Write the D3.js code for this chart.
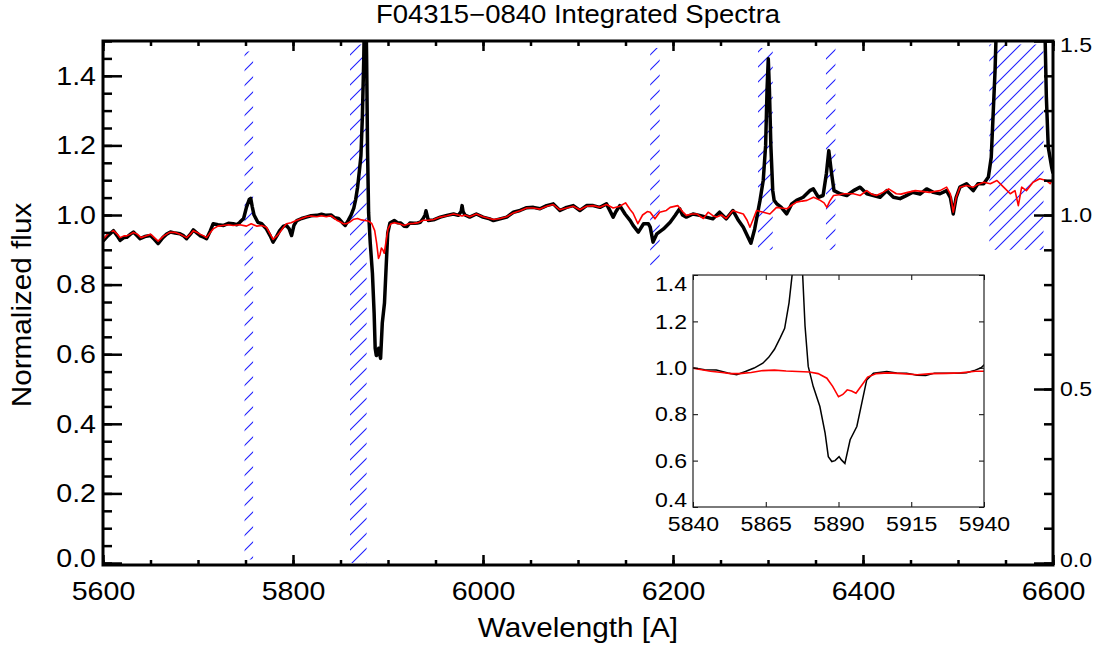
<!DOCTYPE html>
<html>
<head>
<meta charset="utf-8">
<script src="https://cdn.jsdelivr.net/npm/d3@7"></script>
<style>
body { margin: 0; background: #fff; }
text { font-family: "Liberation Sans", Arial, Helvetica, sans-serif; fill: #000; }
</style>
</head>
<body>
<div id="main"></div>
<script>
// observed spectrum (black), wavelength in A and normalized flux
var obsWave = [5600,5605,5611,5615,5618,5622,5625,5629,5632,5636,5639,5644,5650,5654,5658,5663,5667,5671,5676,5681,5685,5688,5692,5695,5699,5702,5706,5709,5713,5716,5721,5727,5732,5737,5741,5744,5748,5751,5754,5755.5,5757,5759,5763,5767,5772,5776,5779,5783,5786,5790,5793,5796,5798.5,5801,5804,5809,5814,5819,5825,5830,5835,5840,5844,5848,5852,5855,5858,5861,5864,5866,5868,5870,5871.5,5873,5874.5,5875.5,5876.5,5877.5,5878.5,5879.6,5881.3,5883.6,5885.4,5886.5,5887.7,5888.8,5890.2,5891,5892.2,5894,5896.3,5898,5899.7,5902,5906.6,5910,5913.4,5917,5920,5923,5927,5931,5934,5937,5939,5940,5942.5,5948,5955,5962,5969,5974,5977,5978,5979,5981,5986,5993,6000,6007,6011,6018,6025,6032,6039,6046,6053,6060,6067,6074,6081,6088,6095,6102,6109,6116,6123,6130,6137,6140,6144,6149.5,6155,6158,6163.5,6169,6174,6176,6179,6183,6190,6197,6202,6207,6210,6214,6221,6228,6235,6242,6249,6256,6263,6269,6274,6279,6282,6286,6291.6,6295,6297.5,6299,6300.3,6301.5,6303,6305,6306.5,6309,6314,6319.6,6325,6330,6337,6344,6347.7,6353,6358,6361.5,6364,6366.5,6369.5,6376,6383,6390,6397,6404,6411,6418,6425,6432,6439,6445,6452,6460,6467,6474,6481,6488,6492,6495,6498,6502,6509,6516,6521,6527,6532,6535,6537,6539,6541,6545,6550,6560,6570,6580,6587,6591,6593,6595,6598.6,6600];
var obsFlux = [0.925,0.94,0.955,0.94,0.927,0.935,0.936,0.945,0.951,0.94,0.932,0.938,0.941,0.93,0.918,0.935,0.945,0.951,0.948,0.946,0.94,0.932,0.945,0.957,0.948,0.941,0.936,0.932,0.955,0.975,0.972,0.97,0.976,0.975,0.972,0.979,0.99,1.022,1.045,1.048,1.025,1.0,0.979,0.975,0.96,0.94,0.922,0.94,0.955,0.968,0.97,0.96,0.941,0.97,0.984,0.99,0.994,0.998,0.999,1.002,0.999,1.0,0.992,0.99,0.978,0.97,0.984,0.999,1.02,1.045,1.08,1.13,1.17,1.28,1.45,1.65,1.65,1.45,1.18,1.006,0.92,0.833,0.718,0.617,0.596,0.6,0.617,0.603,0.588,0.69,0.747,0.848,0.948,0.977,0.984,0.978,0.977,0.968,0.967,0.977,0.976,0.977,0.979,0.99,1.0,1.012,0.984,0.986,0.994,0.999,1.003,0.999,1.01,1.027,1.01,1.0,0.994,1.003,0.994,0.989,0.984,0.989,0.994,1.008,1.013,1.021,1.022,1.018,1.027,1.032,1.013,1.022,1.027,1.013,1.027,1.027,1.022,1.032,0.994,1.01,1.027,1.003,0.984,0.97,0.951,0.975,0.975,0.965,0.922,0.946,0.96,0.979,0.998,1.018,1.0,0.994,1.003,0.999,0.994,0.989,1.008,0.989,1.013,0.984,0.965,0.936,0.919,0.96,1.042,1.1,1.2,1.36,1.449,1.36,1.2,1.07,1.042,1.033,1.022,1.003,1.032,1.042,1.051,1.07,1.075,1.051,1.056,1.12,1.185,1.128,1.07,1.061,1.056,1.07,1.08,1.061,1.056,1.051,1.07,1.051,1.047,1.055,1.065,1.06,1.075,1.065,1.061,1.07,1.05,1.003,1.05,1.08,1.09,1.07,1.09,1.09,1.109,1.166,1.29,1.415,1.6,2.2,2.6,2.8,2.8,2.6,2.2,1.6,1.34,1.195,1.137,1.12];

// stellar population model (red)
var modelWave = [5600,5605,5611,5615,5618,5622,5625,5629,5632,5636,5640,5645,5650,5654,5658,5664,5670,5676,5681,5688,5692,5695,5699,5702,5706,5709,5713,5716,5721,5726,5732,5737,5744,5751,5756,5762,5767,5772,5776,5779,5783,5786,5790,5793,5798,5804,5809,5814,5819,5825,5830,5835,5840,5846,5850,5853,5856,5860,5864,5868,5872,5876,5880,5883,5886,5888,5890,5891.5,5893,5894.5,5896,5898,5900,5903,5907,5912,5917,5922,5927,5932,5937,5942,5948,5955,5962,5969,5974,5978,5981,5986,5993,6000,6007,6011,6018,6025,6032,6039,6046,6053,6060,6067,6074,6081,6088,6095,6102,6109,6116,6123,6130,6137,6144,6150,6155,6158,6163,6168,6173,6176,6181,6186,6193,6197,6205,6210,6214,6220,6225,6232,6237,6242,6246,6251,6256,6263,6268,6274,6278,6281,6284,6288,6295,6302,6309,6314,6320,6325,6330,6336,6341,6348,6355,6359,6362,6365,6369,6375,6380,6390,6397,6404,6409,6414,6421,6427,6435,6440,6447,6455,6462,6470,6476,6481,6488,6492,6495,6498,6502,6509,6516,6521,6527,6534,6541,6548,6555,6560,6563.5,6567,6572,6579,6586,6593,6597,6600];
var modelFlux = [0.93,0.945,0.955,0.945,0.935,0.94,0.94,0.945,0.95,0.945,0.935,0.94,0.945,0.935,0.925,0.94,0.95,0.95,0.945,0.935,0.945,0.955,0.95,0.945,0.94,0.935,0.95,0.96,0.968,0.97,0.972,0.97,0.972,0.968,0.975,0.968,0.97,0.965,0.945,0.93,0.94,0.95,0.965,0.975,0.978,0.985,0.99,0.995,0.997,0.995,0.998,0.995,0.998,0.985,0.98,0.975,0.975,0.98,0.988,0.99,0.986,0.984,0.982,0.975,0.955,0.92,0.875,0.885,0.905,0.9,0.89,0.925,0.96,0.975,0.978,0.975,0.97,0.975,0.976,0.978,0.985,0.985,0.987,0.994,0.998,1.003,1.0,0.997,1.0,0.995,1.003,0.995,0.99,0.987,0.99,0.995,1.006,1.012,1.02,1.02,1.017,1.025,1.03,1.015,1.02,1.025,1.015,1.025,1.027,1.022,1.03,1.02,1.025,1.035,1.015,1.005,0.975,1.0,1.01,1.008,0.989,1.008,1.013,1.022,1.027,1.01,0.999,1.003,1.003,0.99,1.008,0.998,0.994,1.0,0.99,1.013,1.008,1.003,0.985,0.965,0.985,1.013,1.008,1.003,1.022,1.02,1.018,1.028,1.037,1.04,1.042,1.051,1.042,1.035,1.022,1.04,1.056,1.058,1.061,1.061,1.056,1.07,1.06,1.056,1.065,1.075,1.061,1.06,1.065,1.07,1.068,1.065,1.068,1.07,1.08,1.06,1.008,1.05,1.08,1.085,1.08,1.088,1.094,1.09,1.099,1.08,1.061,1.07,1.027,1.08,1.07,1.094,1.104,1.099,1.09,1.104];

// masked (hatched) wavelength windows and their vertical extent
var maskLo  = [5749, 5860, 6176, 6289.5, 6361, 6533];
var maskHi  = [5758, 5877.5, 6186, 6305, 6371, 6590];
var maskBot = [0.01, 0.0, 0.855, 0.9, 0.9, 0.9];
var maskTop = [1.47, 1.49, 1.48, 1.48, 1.48, 1.49];

var xMajor = [5600, 5800, 6000, 6200, 6400, 6600];
var xMinor = d3.range(5600, 6601, 50);
var yMajor = [0, 0.2, 0.4, 0.6, 0.8, 1.0, 1.2, 1.4];
var yMinor = d3.range(0, 1.501, 0.05);
var rMajor = [0, 0.5, 1.0, 1.5];
var rMinor = d3.range(0, 1.501, 0.1);
var insetXTicks = [5840, 5865, 5890, 5915, 5940];
var insetYTicks = [0.4, 0.6, 0.8, 1.0, 1.2, 1.4];

var W = 1097, H = 645;
var SX = 1.1; // the lettering in the figure is a bit wide

var svg = d3.select('#main').append('svg')
	.attr('width', W)
	.attr('height', H);

var x = d3.scaleLinear().domain([5600, 6600]).range([103, 1053]);
var y = d3.scaleLinear().domain([-0.0057, 1.5]).range([565, 41]);

var pts = function(w, f){ return w.map(function(d, i){ return [d, f[i]]; }); };
var obs = pts(obsWave, obsFlux);
var model = pts(modelWave, modelFlux);

var defs = svg.append('defs');
defs.append('clipPath').attr('id', 'clipMain')
	.append('rect').attr('x', 103).attr('y', 41).attr('width', 950).attr('height', 524);

var pat = defs.append('pattern').attr('id', 'hatch')
	.attr('patternUnits', 'userSpaceOnUse')
	.attr('width', 15).attr('height', 15);
pat.append('path')
	.attr('d', 'M0,15L15,0M-2,2L2,-2M13,17L17,13')
	.attr('stroke', '#1f1fff').attr('stroke-width', 1.1);

// hatched masks
svg.append('g').selectAll('rect')
	.data(maskLo)
	.enter()
	.append('rect')
	.attr('x', function(d){ return x(d); })
	.attr('width', function(d, i){ return x(maskHi[i]) - x(d); })
	.attr('y', function(d, i){ return y(maskTop[i]); })
	.attr('height', function(d, i){ return y(maskBot[i]) - y(maskTop[i]); })
	.attr('fill', 'url(#hatch)');

var line = d3.line()
	.x(function(d){ return x(d[0]); })
	.y(function(d){ return y(d[1]); });

var plotG = svg.append('g').attr('clip-path', 'url(#clipMain)');
plotG.append('path').datum(obs)
	.attr('d', line)
	.attr('fill', 'none').attr('stroke', '#000').attr('stroke-width', 3.5)
	.attr('stroke-linejoin', 'round');
plotG.append('path').datum(model)
	.attr('d', line)
	.attr('fill', 'none').attr('stroke', '#ff0000').attr('stroke-width', 1.6)
	.attr('stroke-linejoin', 'round');

// stretch helper for axis labels (dy = extra vertical nudge per label)
function stretch(sel, nudge){
	sel.selectAll('text').each(function(d){
		var t = d3.select(this);
		var tx = +t.attr('x') || 0, ty = +t.attr('y') || 0;
		if(nudge && nudge[d] !== undefined) ty += nudge[d];
		t.attr('transform', 'translate(' + tx + ',' + ty + ') scale(' + SX + ',1)')
			.attr('x', 0).attr('y', 0);
	});
}

function styleAxis(g, w){
	g.select('.domain').remove();
	g.selectAll('line').attr('stroke', '#000').attr('stroke-width', w);
}

// main axes
var fmt = d3.format('.1f');
var gB = svg.append('g').attr('transform', 'translate(0,565)')
	.call(d3.axisBottom(x).tickValues(xMajor).tickSize(-10).tickPadding(17).tickFormat(d3.format('d')));
gB.call(styleAxis, 2.5); gB.selectAll('text').attr('font-size', 26); gB.call(stretch);
var gBm = svg.append('g').attr('transform', 'translate(0,565)')
	.call(d3.axisBottom(x).tickValues(xMinor).tickSize(-5).tickFormat(''));
gBm.call(styleAxis, 2.5);

var gT = svg.append('g').attr('transform', 'translate(0,41)')
	.call(d3.axisTop(x).tickValues(xMajor).tickSize(-10).tickFormat(''));
gT.call(styleAxis, 2.5);
var gTm = svg.append('g').attr('transform', 'translate(0,41)')
	.call(d3.axisTop(x).tickValues(xMinor).tickSize(-5).tickFormat(''));
gTm.call(styleAxis, 2.5);

var gL = svg.append('g').attr('transform', 'translate(103,0)')
	.call(d3.axisLeft(y).tickValues(yMajor).tickSize(-19).tickPadding(7).tickFormat(fmt));
gL.call(styleAxis, 2.5); gL.selectAll('text').attr('font-size', 26); gL.call(stretch, {0: -5});
var gLm = svg.append('g').attr('transform', 'translate(103,0)')
	.call(d3.axisLeft(y).tickValues(yMinor).tickSize(-9).tickFormat(''));
gLm.call(styleAxis, 2.5);

var gR = svg.append('g').attr('transform', 'translate(1053,0)')
	.call(d3.axisRight(y).tickValues(rMajor).tickSize(-19).tickPadding(7).tickFormat(fmt));
gR.call(styleAxis, 2.5); gR.selectAll('text').attr('font-size', 21); gR.call(stretch, {0: -3, 1.5: 4});
var gRm = svg.append('g').attr('transform', 'translate(1053,0)')
	.call(d3.axisRight(y).tickValues(rMinor).tickSize(-9).tickFormat(''));
gRm.call(styleAxis, 2.5);

svg.append('rect')
	.attr('x', 103).attr('y', 41).attr('width', 950).attr('height', 524)
	.attr('fill', 'none').attr('stroke', '#000').attr('stroke-width', 3);

// titles
svg.append('text').attr('transform', 'translate(578,23) scale(' + SX + ',1)')
	.attr('text-anchor', 'middle').attr('font-size', 25)
	.text('F04315\u22120840 Integrated Spectra');
svg.append('text').attr('transform', 'translate(578,637) scale(' + SX + ',1)')
	.attr('text-anchor', 'middle').attr('font-size', 27)
	.text('Wavelength [A]');
svg.append('text').attr('transform', 'translate(31,305) rotate(-90) scale(' + SX + ',1)')
	.attr('text-anchor', 'middle').attr('font-size', 27)
	.text('Normalized flux');

// inset around Na D
var x2 = d3.scaleLinear().domain([5840, 5940]).range([693, 984]);
var y2 = d3.scaleLinear().domain([0.4, 1.4]).range([507, 275]);
defs.append('clipPath').attr('id', 'clipInset')
	.append('rect').attr('x', 693).attr('y', 275).attr('width', 291).attr('height', 232);

svg.append('rect')
	.attr('x', 693).attr('y', 275).attr('width', 291).attr('height', 232)
	.attr('fill', '#fff');

var line2 = d3.line()
	.x(function(d){ return x2(d[0]); })
	.y(function(d){ return y2(d[1]); });
var insetG = svg.append('g').attr('clip-path', 'url(#clipInset)');
insetG.append('path').datum(obs)
	.attr('d', line2)
	.attr('fill', 'none').attr('stroke', '#000').attr('stroke-width', 1.5);
insetG.append('path').datum(model)
	.attr('d', line2)
	.attr('fill', 'none').attr('stroke', '#ff0000').attr('stroke-width', 1.6);

var iB = svg.append('g').attr('transform', 'translate(0,507)')
	.call(d3.axisBottom(x2).tickValues(insetXTicks).tickSize(-5).tickPadding(9).tickFormat(d3.format('d')));
iB.call(styleAxis, 1); iB.selectAll('text').attr('font-size', 21); iB.call(stretch);
var iT = svg.append('g').attr('transform', 'translate(0,275)')
	.call(d3.axisTop(x2).tickValues(insetXTicks).tickSize(-5).tickFormat(''));
iT.call(styleAxis, 1);
var iL = svg.append('g').attr('transform', 'translate(693,0)')
	.call(d3.axisLeft(y2).tickValues(insetYTicks).tickSize(-5).tickPadding(6).tickFormat(fmt));
iL.call(styleAxis, 1); iL.selectAll('text').attr('font-size', 21); iL.call(stretch, {0.4: -7, 1.4: 9});
var iR = svg.append('g').attr('transform', 'translate(984,0)')
	.call(d3.axisRight(y2).tickValues(insetYTicks).tickSize(-5).tickFormat(''));
iR.call(styleAxis, 1);

svg.append('rect')
	.attr('x', 693).attr('y', 275).attr('width', 291).attr('height', 232)
	.attr('fill', 'none').attr('stroke', '#222').attr('stroke-width', 1.2);
</script>
</body>
</html>
